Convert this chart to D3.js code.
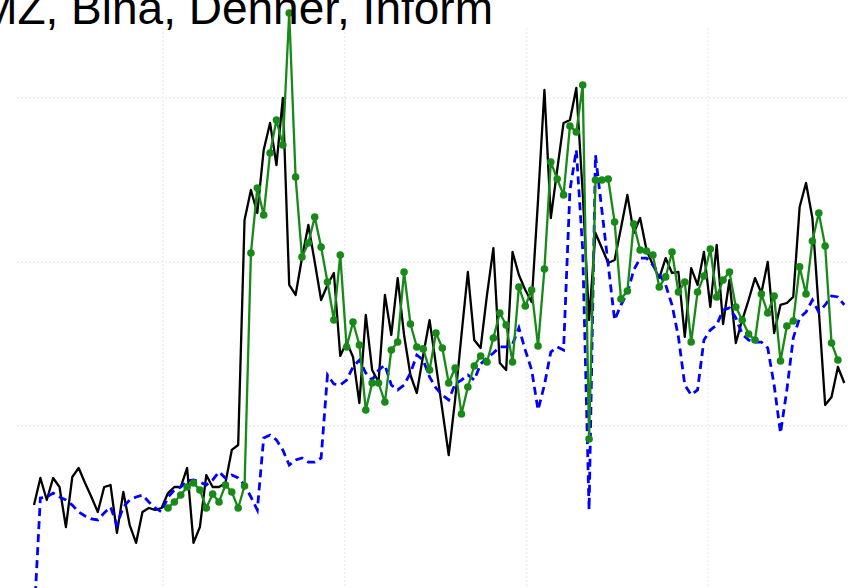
<!DOCTYPE html>
<meta charset="utf-8">
<head>
    <meta charset="UTF-8">
    <title>MZ, Bina, Denner, Inform</title>
    <style>
      body { margin: 0; background: #fff; overflow: hidden; }
    </style>
</head>
<body>
<script src="https://d3js.org/d3.v7.min.js"></script>
<div id="chart"></div>
<script>

    // values (index units, one point per period)
    const blackSeries = [51.8, 68.3, 54.9, 68.3, 62.8, 38.4, 68.9, 74.4, 65.2, 56.7,
      47.6, 62.8, 64.0, 34.8, 59.8, 39.6, 28.7, 47.6, 50.0, 48.8,
      50.0, 59.1, 62.8, 62.8, 74.4, 28.7, 38.4, 70.1, 62.8, 62.8,
      65.2, 85.4, 88.4, 225.6, 243.9, 229.9, 268.3, 284.8, 259.1, 300.0,
      186.0, 179.9, 202.4, 222.6, 200.0, 176.8, 186.0, 193.3, 142.7, 151.2,
      142.1, 114.0, 167.7, 134.1, 126.8, 179.9, 155.5, 190.2, 155.5, 131.1,
      120.1, 143.3, 164.6, 137.2, 109.8, 82.3, 115.9, 155.5, 193.9, 152.4,
      147.6, 179.9, 208.5, 138.4, 134.1, 206.1, 192.1, 182.9, 175.6, 237.8,
      304.9, 226.8, 256.1, 284.8, 286.6, 306.1, 242.1, 164.6, 217.7, 208.5,
      199.4, 201.2, 220.7, 240.9, 217.7, 226.8, 207.3, 198.2, 190.2, 202.4,
      193.3, 193.9, 154.3, 196.3, 186.0, 206.1, 172.6, 210.4, 162.2, 189.0,
      150.6, 164.6, 176.8, 190.2, 181.1, 200.0, 156.7, 173.8, 175.0, 178.7,
      233.5, 248.2, 226.8, 170.7, 112.8, 117.7, 136.0, 126.2]

    const blueSeries = [-18.3, 56.1, 56.7, 59.1, 56.7, 54.9, 51.8, 47.6, 45.1, 43.3,
      42.7, 47.0, 50.6, 39.6, 50.6, 54.9, 56.7, 57.9, 53.7, 50.0,
      47.6, 56.7, 61.0, 62.8, 66.5, 67.1, 65.9, 64.0, 67.1, 72.0,
      68.3, 70.1, 68.3, 64.0, 56.7, 48.8, 92.7, 94.5, 91.5, 85.4,
      76.2, 79.3, 80.5, 78.0, 78.0, 80.5, 131.1, 125.6, 125.0, 128.0,
      136.0, 140.2, 132.3, 128.0, 134.1, 137.2, 125.0, 122.0, 125.0, 132.3,
      143.3, 140.2, 129.9, 123.2, 118.9, 115.9, 125.6, 128.0, 131.1, 128.0,
      137.8, 141.5, 144.5, 148.2, 148.2, 150.0, 159.8, 146.3, 134.1, 109.8,
      125.0, 145.1, 148.2, 146.3, 243.9, 268.3, 207.3, 48.8, 265.2, 231.7,
      198.2, 164.6, 173.8, 181.1, 195.1, 202.4, 202.4, 198.2, 192.7, 186.0,
      173.8, 154.3, 125.0, 118.9, 122.0, 152.4, 158.5, 161.6, 170.7, 172.0,
      165.9, 156.1, 152.4, 151.2, 151.2, 147.6, 125.0, 95.7, 122.0, 153.7,
      165.9, 169.5, 176.8, 169.5, 173.8, 179.3, 178.7, 173.8]

    // green series starts later (first point at period 21)
    const greenStart = 21
    const greenSeries = [50.0, 53.7, 57.9, 62.8, 65.2, 61.0, 50.0, 58.5, 53.7,
      64.0, 59.8, 50.0, 63.4, 205.5, 245.1, 228.7, 266.5, 286.6, 271.3,
      351.8, 251.8, 203.0, 211.6, 227.4, 209.1, 187.8, 164.6, 204.3, 148.2,
      163.4, 149.4, 109.8, 126.2, 126.2, 114.6, 146.3, 151.2, 193.9, 162.2,
      148.2, 147.0, 134.1, 156.7, 147.6, 126.2, 135.4, 107.3, 123.8, 136.6,
      142.7, 139.0, 153.7, 168.9, 161.6, 139.0, 184.8, 173.2, 182.9, 148.8,
      195.7, 261.0, 250.6, 240.9, 282.9, 279.3, 307.9, 92.1, 250.0, 250.0,
      250.6, 224.4, 177.4, 182.3, 223.2, 207.3, 206.7, 204.3, 184.8, 190.9,
      206.1, 181.7, 187.8, 151.2, 181.7, 191.5, 207.9, 178.7, 189.0, 193.9,
      172.6, 164.6, 156.1, 152.4, 180.5, 168.9, 179.3, 139.6, 161.0, 164.0,
      197.0, 180.5, 212.8, 229.9, 209.8, 150.6, 140.2]

    const yGridValues = [0, 100, 200, 300]
    const xGridValues = [20.2, 48.7, 77.2, 105.7]
    const titleText = "MZ, Bina, Denner, Inform"

    const width = 848, height = 588

    const svg = d3.select("#chart")
      .append("svg")
        .attr("width", width)
        .attr("height", height)

    // scales
    const x = d3.scaleLinear()
      .domain([0, blackSeries.length - 1])
      .range([34, 844.3])

    const y = d3.scaleLinear()
      .domain([0, 300])
      .range([590, 98])

    // very faint dotted grid
    svg.append("g")
      .selectAll("line")
      .data(yGridValues)
      .join("line")
        .attr("x1", 17)
        .attr("x2", width)
        .attr("y1", d => y(d))
        .attr("y2", d => y(d))
        .style("stroke", "#ededed")
        .style("stroke-width", 1.5)
        .style("stroke-dasharray", "2,2")

    svg.append("g")
      .selectAll("line")
      .data(xGridValues)
      .join("line")
        .attr("x1", d => x(d))
        .attr("x2", d => x(d))
        .attr("y1", 28)
        .attr("y2", height)
        .style("stroke", "#ededed")
        .style("stroke-width", 1.5)
        .style("stroke-dasharray", "2,2")

    const line = d3.line()
      .x(d => x(d[0]))
      .y(d => y(d[1]))

    const blackData = blackSeries.map((v, i) => [i, v])
    const blueData = blueSeries.map((v, i) => [i, v])
    const greenData = greenSeries.map((v, i) => [i + greenStart, v])

    svg.append("path")
      .datum(blackData)
      .attr("d", line)
      .style("fill", "none")
      .style("stroke", "#000")
      .style("stroke-width", 2.3)
      .style("stroke-linejoin", "round")

    svg.append("path")
      .datum(blueData)
      .attr("d", line)
      .style("fill", "none")
      .style("stroke", "#0000ff")
      .style("stroke-width", 2.8)
      .style("stroke-dasharray", "8,5")

    svg.append("path")
      .datum(greenData)
      .attr("d", line)
      .style("fill", "none")
      .style("stroke", "#178a17")
      .style("stroke-width", 2.3)
      .style("stroke-linejoin", "round")

    svg.append("g")
      .selectAll("circle")
      .data(greenData)
      .join("circle")
        .attr("cx", d => x(d[0]))
        .attr("cy", d => y(d[1]))
        .attr("r", 3.8)
        .style("fill", "#178a17")

    // title, clipped at the top/left like the picture
    svg.append("text")
      .attr("x", 493)
      .attr("y", 23.5)
      .attr("text-anchor", "end")
      .style("font-family", "'Liberation Sans', Arial, Helvetica, sans-serif")
      .style("font-size", "46px")
      .style("fill", "#000")
      .text(titleText)
</script>
</body>
